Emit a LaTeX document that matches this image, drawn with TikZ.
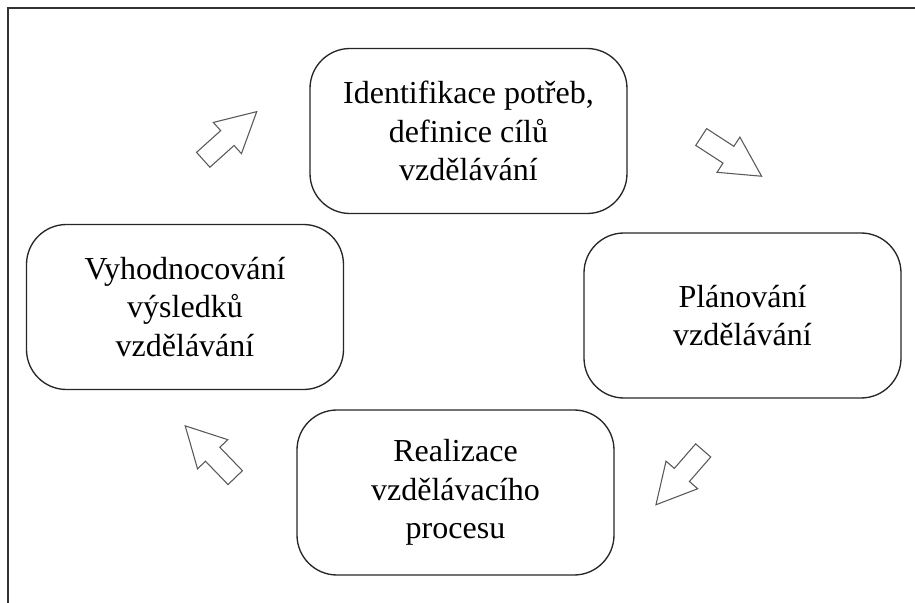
\documentclass[tikz,border=0pt]{standalone}
\usepackage{fontspec}
\setmainfont{Liberation Serif}
\usetikzlibrary{shapes.arrows,positioning}
\tikzset{
  stage/.style={draw=black!85,line width=1pt,rounded corners=30pt,align=center,
    minimum width=237.75pt,minimum height=123.75pt,
    font=\fontsize{24}{29}\selectfont},
  flow/.style={single arrow,draw=black!65,line width=0.8pt,fill=white,
    inner xsep=0pt,inner ysep=7.1pt,
    minimum height=54pt,minimum width=30.75pt,
    single arrow head extend=8.25pt,single arrow tip angle=56,rotate=#1},
  frame/.style={draw=black!80,line width=1.2pt}
}
\begin{document}
\begin{tikzpicture}[x=0.75pt,y=-0.75pt]
  \useasboundingbox (0,0) rectangle (915,603);
  \draw[frame] (915,8) -- (8,8) -- (8,603);

  \node [stage] (ident) at (468.5,131) {Identifikace potřeb,\\definice cílů\\vzdělávání};
  \node [stage] (plan) at (742.5,315.5) {Plánování\\vzdělávání};
  \node [stage] (real) at (455.5,492.5) {Realizace\\vzdělávacího\\procesu};
  \node [stage] (eval) at (185,307) {Vyhodnocování\\výsledků\\vzdělávání};

  \node [flow=42] (a1) at (223,142) {};
  \node [flow=-33] (a2) at (723.5,151.5) {};
  \node [flow=-131] (a3) at (685.75,470.5) {};
  \node [flow=134] (a4) at (216.75,458.5) {};
\end{tikzpicture}
\end{document}
